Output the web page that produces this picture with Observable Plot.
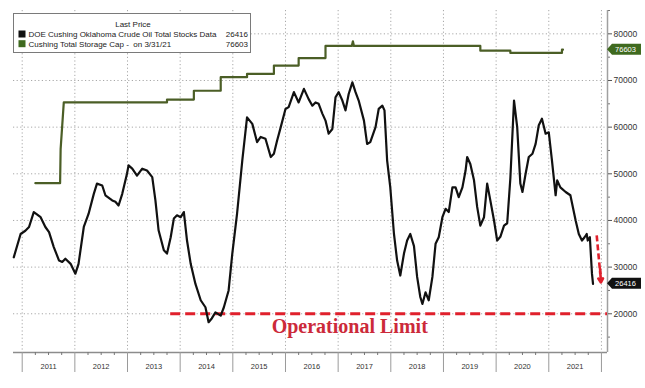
<!DOCTYPE html>
<html><head><meta charset="utf-8">
<script src="https://cdn.jsdelivr.net/npm/d3@7"></script>
<script src="https://cdn.jsdelivr.net/npm/@observablehq/plot@0.6"></script>
<style>
body{margin:0;background:#fff;}
#chart{position:relative;width:645px;height:388px;}
</style></head><body><div id="chart"></div>
<script>
// ---- data (thousand barrels, x in decimal years) ----
const stockYears = [2010.84,2010.97,2011.06,2011.13,2011.22,2011.28,2011.35,2011.44,2011.51,2011.60,2011.70,2011.76,2011.82,2011.92,2012.01,2012.07,2012.17,2012.26,2012.36,2012.42,2012.52,2012.58,2012.71,2012.77,2012.83,2012.90,2012.99,2013.02,2013.09,2013.18,2013.28,2013.37,2013.47,2013.53,2013.59,2013.69,2013.75,2013.82,2013.88,2013.94,2014.01,2014.07,2014.13,2014.20,2014.29,2014.39,2014.48,2014.54,2014.60,2014.67,2014.77,2014.83,2014.92,2014.99,2015.08,2015.18,2015.27,2015.37,2015.46,2015.53,2015.62,2015.72,2015.78,2015.84,2015.91,2016.00,2016.06,2016.16,2016.25,2016.35,2016.44,2016.51,2016.57,2016.63,2016.70,2016.76,2016.82,2016.89,2016.95,2017.01,2017.08,2017.14,2017.20,2017.27,2017.33,2017.39,2017.49,2017.55,2017.61,2017.71,2017.77,2017.84,2017.88,2017.93,2017.99,2018.06,2018.12,2018.18,2018.25,2018.31,2018.37,2018.44,2018.50,2018.56,2018.60,2018.66,2018.72,2018.79,2018.85,2018.91,2018.98,2019.04,2019.10,2019.17,2019.23,2019.29,2019.36,2019.42,2019.45,2019.51,2019.58,2019.64,2019.70,2019.77,2019.83,2019.89,2019.96,2020.02,2020.08,2020.15,2020.21,2020.27,2020.34,2020.40,2020.46,2020.50,2020.56,2020.62,2020.69,2020.75,2020.81,2020.87,2020.94,2021.00,2021.06,2021.13,2021.16,2021.22,2021.32,2021.41,2021.51,2021.57,2021.63,2021.68,2021.72,2021.74,2021.78,2021.82,2021.84];
const stockValues = [32100,37100,37800,38600,41800,41300,40700,38600,37500,34300,31400,31100,31800,30700,28600,30700,38600,41400,45700,47900,47500,45400,44300,44000,43200,45700,50000,51800,51100,49600,51100,50700,49300,44300,37900,33600,32900,36400,40400,41100,40700,41800,35700,30700,26400,22900,21400,18200,19000,20300,19600,21400,25000,32900,41400,52900,62100,60700,56800,57900,57500,53600,54300,57100,60000,63900,64300,67500,65300,68200,66000,64600,65300,65000,62900,61400,58600,59600,66400,67500,65700,63600,67100,69600,67500,65700,61400,56400,56800,60000,63900,64600,63600,52900,47100,37100,31400,28200,32900,35700,37100,34500,27900,23600,22100,24600,22900,27900,35000,36400,40700,42500,41800,47100,47100,45000,47100,50700,53600,52100,48600,42900,38900,40700,47900,44300,40000,35700,36500,38900,39400,49000,65700,60000,47900,46100,50000,53600,54300,56400,60400,61800,58600,58900,52900,45400,48600,47100,46100,45400,40000,37100,35700,36400,37100,35700,36400,28600,26416];
const capYears = [2011.25,2011.72,2011.73,2011.79,2013.75,2013.75,2014.26,2014.26,2014.77,2014.77,2015.27,2015.27,2015.78,2015.78,2016.25,2016.25,2016.76,2016.76,2017.26,2017.28,2017.30,2019.70,2019.70,2020.27,2020.27,2021.25,2021.25,2021.27];
const capValues = [48000,48000,55300,65300,65300,65900,65900,67800,67800,70700,70700,71400,71400,73200,73200,74800,74800,77400,77400,78400,77400,77400,76400,76400,75900,75900,76603,76603];
const yearLabels = ["2011","2012","2013","2014","2015","2016","2017","2018","2019","2020","2021"];
const yTicks = [20000,30000,40000,50000,60000,70000,80000];
const legendTitle = "Last Price";
const legendNames = ["DOE Cushing Oklahoma Crude Oil Total Stocks Data", "Cushing Total Storage Cap -  on 3/31/21"];
const lastValues = [26416, 76603];
const seriesColors = ["#111111", "#4b5e26"];
const tagColors = ["#111111", "#3f6a1f"];
const limitValue = 20000;
const limitLabel = "Operational Limit";
const limitStart = 2013.82;
const arrowYears = [2021.91, 2021.99];
const arrowValues = [36800, 26700];

// ---- chart ----
const xDomain = [2010.835, 2022.115];
const yDomain = [11700, 85000];
const stocks = stockYears.map((t, i) => ({t, v: stockValues[i]}));
const cap = capYears.map((t, i) => ({t, v: capValues[i]}));
const yearBounds = d3.range(2011, 2023);
const yearMids = yearLabels.map(y => +y + 0.5);
const quarters = d3.range(2011, 2022.01, 0.25).filter(q => q % 1 !== 0);
const minorY = d3.range(15000, 85001, 10000);
const red = "#e0202c";
const sans = "'Liberation Sans', Arial, sans-serif";

const plot = Plot.plot({
  width: 645, height: 388,
  marginLeft: 13, marginRight: 38, marginTop: 10, marginBottom: 36,
  style: {fontFamily: sans, background: "#fff", color: "#333"},
  x: {type: "linear", domain: xDomain, label: null},
  y: {type: "linear", domain: yDomain, label: null},
  marks: [
    Plot.gridY(yTicks, {stroke: "#a8a8a8", strokeOpacity: 1, strokeDasharray: "1.2,2.4"}),
    Plot.gridX(yearBounds, {stroke: "#a8a8a8", strokeOpacity: 1, strokeDasharray: "1.2,2.4"}),
    Plot.ruleY([yDomain[0]], {stroke: "#8c8c8c", strokeWidth: 1.3}),
    Plot.ruleX([xDomain[1]], {stroke: "#a0a0a0", strokeWidth: 1.5}),
    Plot.axisX(yearBounds, {anchor: "bottom", label: null, tickSize: 20, tickFormat: () => "", stroke: "#9a9a9a"}),
    Plot.axisX(quarters, {anchor: "bottom", label: null, tickSize: 3, tickFormat: () => "", stroke: "#777"}),
    Plot.axisX(yearMids, {anchor: "bottom", label: null, tickSize: 0, tickPadding: 11, tickFormat: d => String(Math.floor(d)), fontSize: 7.5, fill: "#333"}),
    Plot.axisY(yTicks, {anchor: "right", label: null, tickSize: 4, tickPadding: 2, tickFormat: d => String(d), fontSize: 8.5, fill: "#333", stroke: "#555"}),
    Plot.axisY(minorY, {anchor: "right", label: null, tickSize: 2, tickFormat: () => "", stroke: "#777"}),
    Plot.ruleY([limitValue], {x1: limitStart, x2: xDomain[1], stroke: red, strokeWidth: 3, strokeDasharray: "10,5"}),
    Plot.text([limitLabel], {x: 2017.22, y: 17150, text: d => d, fill: "#cc2a3a", fontSize: 20, fontWeight: "bold", fontFamily: "'Liberation Serif', 'Times New Roman', serif", textAnchor: "middle", lineAnchor: "middle"}),
    Plot.line(cap, {x: "t", y: "v", stroke: seriesColors[1], strokeWidth: 2.2}),
    Plot.line(stocks, {x: "t", y: "v", stroke: seriesColors[0], strokeWidth: 2.2, strokeLinejoin: "round"}),
    Plot.link([0], {x1: () => arrowYears[0], y1: () => arrowValues[0], x2: () => arrowYears[0] + (arrowYears[1] - arrowYears[0]) * 0.85, y2: () => arrowValues[1] + 1800, stroke: red, strokeWidth: 2.6, strokeDasharray: "6,3"}),
    Plot.arrow([0], {x1: () => arrowYears[0] + (arrowYears[1] - arrowYears[0]) * 0.8, y1: () => arrowValues[1] + 3000, x2: () => arrowYears[1], y2: () => arrowValues[1], stroke: red, strokeWidth: 2.6, headLength: 9})
  ]
});
document.getElementById("chart").appendChild(plot);

// ---- overlays using the plot's scales ----
const svg = d3.select(plot);
const ys = plot.scale("y");
const fy = v => ys.apply(v);

// value tags on the right axis
lastValues.forEach((v, i) => {
  const cy = fy(v), x0 = 607, x1 = 641, h = 5.5;
  const g = svg.append("g");
  g.append("path")
    .attr("d", `M${x0},${cy}L${x0 + 5},${cy - h}L${x1},${cy - h}L${x1},${cy + h}L${x0 + 5},${cy + h}Z`)
    .attr("fill", tagColors[i]);
  g.append("text").attr("x", 625.5).attr("y", cy).attr("dy", "0.35em")
    .attr("text-anchor", "middle").attr("fill", "#fff")
    .attr("font-size", 7.5).attr("font-family", sans)
    .text(String(v));
});

// legend box
const lg = svg.append("g").attr("font-family", sans).attr("font-size", 8).attr("fill", "#222").attr("text-anchor", "start");
lg.append("rect").attr("x", 13.5).attr("y", 13.5).attr("width", 237).attr("height", 39)
  .attr("fill", "#fff").attr("stroke", "#7a7a7a").attr("stroke-width", 1);
lg.append("text").attr("x", 133).attr("y", 27).attr("text-anchor", "middle").text(legendTitle);
legendNames.forEach((name, i) => {
  const y0 = 30.5 + i * 9.7;
  lg.append("rect").attr("x", 18.5).attr("y", y0).attr("width", 7).attr("height", 7).attr("fill", tagColors[i]);
  lg.append("text").attr("x", 28.5).attr("y", y0 + 6.6).attr("text-anchor", "start").text(name);
  lg.append("text").attr("x", 248).attr("y", y0 + 6.6).attr("text-anchor", "end").text(String(lastValues[i]));
});
</script>
</body></html>
